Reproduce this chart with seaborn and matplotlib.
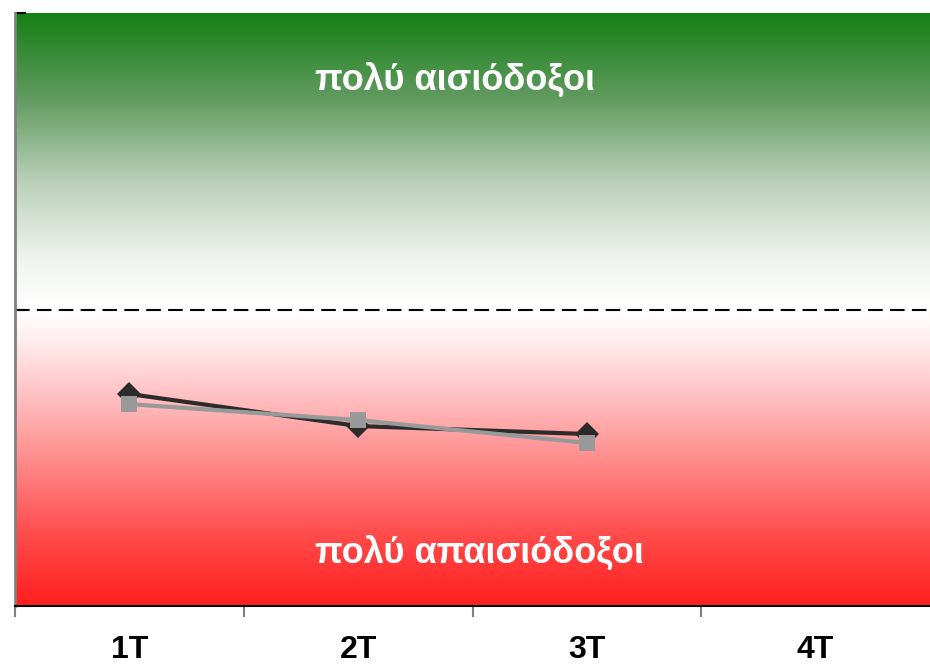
import numpy as np
import pandas as pd
import matplotlib
matplotlib.use("Agg")
import matplotlib.pyplot as plt
from matplotlib.colors import LinearSegmentedColormap
import seaborn as sns

categories = ["1T", "2T", "3T", "4T"]
series_a = [-0.285, -0.393, -0.42]   # dark, diamonds
series_b = [-0.319, -0.373, -0.45]   # gray, squares
label_top = "πολύ αισιόδοξοι"
label_bottom = "πολύ απαισιόδοξοι"

sns.set_theme(style="white")
plt.rcParams['font.family'] = ['Liberation Sans', 'DejaVu Sans']

rows = []
for i, v in enumerate(series_a):
    rows.append({"pos": i, "value": v, "series": "A"})
for i, v in enumerate(series_b):
    rows.append({"pos": i, "value": v, "series": "B"})
df = pd.DataFrame(rows)

fig = plt.figure(figsize=(9.3, 6.66), dpi=100)
ax = fig.add_axes([15/930, 1 - 606/666, (930 - 15)/930, (606 - 13)/666])

# gradient background
cmap = LinearSegmentedColormap.from_list("bg", [
    (0.0, "#ff1e1e"),
    (0.12, "#ff4c4c"),
    (0.25, "#ff8e8e"),
    (0.37, "#ffc8ca"),
    (0.45, "#ffeef0"),
    (0.5, "#ffffff"),
    (0.58, "#f2f5f1"),
    (0.72, "#b9cfb8"),
    (0.86, "#5f9a5e"),
    (1.0, "#158015"),
])
grad = np.linspace(0, 1, 512).reshape(-1, 1)
ax.imshow(grad, cmap=cmap, origin="lower", aspect="auto",
          extent=[-0.5, len(categories) - 0.5, -1, 1], zorder=0)

ax.axhline(0, color="black", lw=1.5, ls=(0, (7, 3.5)), zorder=1)

sns.lineplot(data=df, x="pos", y="value", hue="series", style="series",
             markers={"A": "D", "B": "s"}, dashes=False,
             palette={"A": "#2b2b2b", "B": "#999999"},
             markersize=12, markeredgewidth=0, linewidth=3,
             legend=False, ax=ax, zorder=3)

ax.set_xlim(-0.5, len(categories) - 0.5)
ax.set_ylim(-1, 1)
ax.set_xlabel("")
ax.set_ylabel("")

ax.set_xticks(range(len(categories)))
ax.set_xticklabels(categories, fontsize=23, fontweight="bold", color="black")
ax.tick_params(axis="x", which="major", length=0, pad=21)
ax.set_xticks(np.arange(-0.5, len(categories) - 0.5, 1), minor=True)
ax.tick_params(axis="x", which="minor", length=8, width=1.5, color="#808080",
               direction="out", bottom=True)

ax.set_yticks([0, 1])
ax.set_yticklabels([])
ax.tick_params(axis="y", which="major", length=8, width=1.5, color="black",
               direction="in", left=True)

for s in ["top", "right"]:
    ax.spines[s].set_visible(False)
ax.spines["left"].set_color("#808080")
ax.spines["left"].set_linewidth(2)
ax.spines["bottom"].set_color("black")
ax.spines["bottom"].set_linewidth(1.5)

ax.text(0.481, 0.887, label_top, transform=ax.transAxes, ha="center", va="center",
        fontsize=26, fontweight="bold", color="white", zorder=4)
ax.text(0.508, 0.089, label_bottom, transform=ax.transAxes, ha="center", va="center",
        fontsize=26, fontweight="bold", color="white", zorder=4)

fig.savefig("out.png", dpi=100)
